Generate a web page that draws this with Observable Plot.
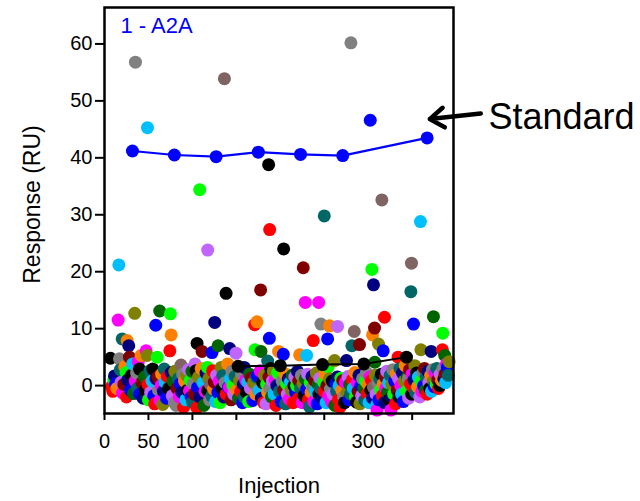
<!DOCTYPE html>
<html>
<head>
<meta charset="utf-8">
<script src="https://cdn.jsdelivr.net/npm/d3@7"></script>
<script src="https://cdn.jsdelivr.net/npm/@observablehq/plot@0.6"></script>
<style>
  html, body { margin: 0; padding: 0; background: #fff; }
  #chart { width: 640px; height: 501px; }
</style>
</head>
<body>
<div id="chart"></div>
<script>
// ---- data ----
const xTicks = [0, 50, 100, 150, 200, 250, 300, 350];
const xTickLabels = [0, 50, 100, 200, 300];
const yTicks = [0, 10, 20, 30, 40, 50, 60];

const compoundCodes = ["R","B","G","K","M","C","O","P","L","N","W","D","T","A","Br"];
const compoundColors = ["#ff0000","#0000ff","#00ff00","#000000","#ff00ff","#00bfff","#ff8000","#c066ff","#808000","#000080","#800000","#006400","#006666","#808080","#806464"];

// standard injections (blue line)
const standardX = [31.8, 79.5, 127, 175, 223, 271, 367];
const standardY = [41.2, 40.5, 40.2, 41.0, 40.6, 40.4, 43.5];

// buffer/blank series (black line)
const blankX = [152, 200, 248, 295, 343.5];
const blankY = [3.4, 3.5, 3.7, 3.8, 5.0];

// compound injections: [injection, response, compound]
const samples = [
[6.8,4.8,"K"],[8,-0.2,"R"],[9.5,-1.0,"R"],[10.5,1.0,"G"],[11.4,1.7,"N"],[12.5,0.3,"B"],[14,-0.5,"O"],[15.5,11.5,"M"],[16.3,21.2,"C"],[17,4.7,"A"],[18,2.8,"T"],[19,0.6,"P"],[20.1,8.2,"T"],[20.5,-1.3,"M"],
[22,0.2,"W"],[23,3.3,"O"],[24.6,2.3,"G"],[25,-2.0,"R"],[25.8,7.9,"O"],[26.5,1.0,"N"],[27.6,7.0,"N"],[28.4,5.0,"W"],[29.5,-0.8,"B"],[30.5,1.8,"K"],[32,3.8,"C"],[33,-1.4,"D"],[34.4,12.7,"L"],[35.2,56.8,"A"],[35,0.8,"M"],
[36.5,2.2,"A"],[37.5,-0.5,"T"],[38.5,4.2,"M"],[39.8,2.9,"K"],[40,-1.5,"B"],[41.7,5.3,"O"],[42.5,0.5,"W"],[44,-2.2,"N"],[45.5,1.5,"D"],[46.5,-0.8,"K"],[47.3,6.1,"M"],[48.5,5.3,"L"],[48.9,45.3,"C"],[49.5,0.2,"R"],[50,-2.5,"G"],
[51.5,2.6,"T"],[52.5,-1.2,"P"],[54,0.8,"C"],[55,2.9,"K"],[56,-1.8,"B"],[57,-3.2,"R"],[58.3,10.6,"B"],[58.5,1.2,"N"],[60,5.0,"G"],[60.6,1.5,"W"],[61.5,-0.8,"A"],[62.8,13.1,"D"],[63,-2.6,"M"],[64.4,0.0,"M"],[65,2.0,"O"],
[66.3,-3.3,"L"],[67,-1.0,"N"],[68,2.9,"T"],[69,0.6,"C"],[70.5,-2.2,"B"],[71.5,1.6,"R"],[73,-0.5,"K"],[74.3,6.1,"R"],[75,12.6,"G"],[75.8,8.9,"O"],[75.8,2.3,"N"],[77,-1.8,"P"],[78,0.8,"D"],[79.5,-3.0,"A"],[80,2.5,"L"],
[81.4,-3.5,"A"],[82.5,-0.5,"W"],[84,1.2,"T"],[85,-2.0,"M"],[86,0.3,"B"],[87,3.6,"Br"],[88,-1.2,"N"],[89,2.0,"A"],[90,-3.8,"R"],[91,0.8,"O"],[92.5,-2.5,"C"],[93.5,1.8,"L"],[94.5,-0.8,"K"],[95.5,2.8,"P"],
[96.6,-0.9,"M"],[97.5,0.9,"G"],[98.5,-2.0,"B"],[99.5,2.5,"D"],[100,-2.9,"T"],[101,0.3,"A"],[102,-1.5,"W"],[103,3.8,"P"],[104,2.6,"K"],[105.3,7.4,"K"],[105,-3.9,"R"],[106,-0.3,"B"],[107,1.5,"L"],[108.3,34.4,"G"],[108.5,-2.0,"N"],[110,3.0,"O"],
[111,6.0,"W"],[112,0.5,"C"],[113,-3.5,"D"],[114.5,-1.0,"M"],[115.5,2.2,"N"],[117,3.2,"G"],[117.4,23.8,"P"],[117.4,-0.9,"K"],[118.5,1.2,"L"],[119.5,-2.5,"A"],[120.5,0.2,"Br"],[122,-1.8,"T"],[122.3,5.8,"B"],[123,2.6,"R"],[124,-0.6,"O"],[125,0.6,"W"],[125.4,11.1,"N"],
[126.5,-2.8,"C"],[127.5,1.8,"P"],[129.2,7.0,"D"],[129,-1.2,"B"],[130.5,0.8,"M"],[131.5,-3.0,"G"],[132.6,3.2,"L"],[133.5,-0.5,"K"],[134.5,1.75,"T"],[135.5,-2.0,"N"],[136.4,53.9,"Br"],[137,0.5,"A"],[138.3,16.2,"K"],[138.5,-1.5,"R"],[140,3.8,"O"],
[141,-0.3,"B"],[142,-0.3,"M"],[142.4,6.5,"N"],[143,1.2,"C"],[144,-2.5,"W"],[145,2.5,"A"],[146,0.0,"G"],[147,-1.5,"P"],[148.5,1.6,"T"],[149.6,5.7,"P"],[150.5,-0.8,"O"],[152.5,-2.2,"D"],[153.5,0.8,"L"],[155,-1.0,"R"],
[156,2.0,"A"],[157,-3.0,"B"],[158,0.2,"N"],[159,3.2,"N"],[159,-2.0,"T"],[160.5,1.0,"M"],[161.5,-1.2,"K"],[163,0.6,"C"],[164,-2.8,"G"],[165,2.0,"D"],[166,-0.5,"P"],[167,1.3,"W"],[168.6,-2.6,"B"],[169.5,0.5,"L"],[170.8,10.7,"R"],[171.2,6.3,"G"],
[172,-1.5,"O"],[173.5,11.2,"O"],[173,1.5,"T"],[174,1.75,"B"],[175,-0.8,"A"],[176,-0.9,"C"],[177.6,16.8,"W"],[177,2.6,"M"],[178,6.0,"D"],[178.5,-2.2,"N"],[180,0.5,"K"],[181,-3.0,"R"],[182,1.8,"L"],[183.7,-3.2,"P"],[184.5,0.2,"G"],[185.6,-1.2,"O"],[185.6,4.3,"T"],
[186.7,38.8,"K"],[187.5,8.3,"B"],[187.9,27.4,"R"],[187,1.5,"W"],[188,-0.5,"A"],[189,3.0,"K"],[190,-2.0,"D"],[191,0.8,"P"],[192,2.5,"L"],[193,-1.5,"C"],[194,1.0,"M"],[195,-3.5,"R"],[196,0.0,"N"],[197,2.2,"G"],[198,6.0,"O"],[199,-1.0,"T"],
[201,-2.8,"B"],[202,0.8,"A"],[203.4,5.5,"B"],[203.8,24.0,"K"],[204,-0.8,"W"],[205.3,2.1,"O"],[206,-3.2,"T"],[207,0.3,"G"],[208,-1.5,"P"],[209,1.2,"N"],[210,-2.4,"M"],[211.5,0.6,"C"],[212.5,-0.8,"L"],[213.5,1.8,"D"],[214.5,-3.0,"R"],[215.5,0.0,"K"],
[216.5,1.5,"P"],[217.5,-1.2,"B"],[218.5,0.0,"G"],[219.5,2.5,"N"],[220.4,-2.3,"R"],[221,0.8,"W"],[222,5.4,"O"],[223,-0.5,"T"],[224,1.8,"A"],[225,-3.0,"M"],[226.1,20.7,"W"],[226,0.4,"L"],[227,-1.8,"K"],[228.4,14.6,"M"],[228.5,1.2,"D"],[229.9,5.3,"C"],[230,-0.6,"B"],
[231,2.0,"P"],[232,-2.5,"R"],[233.3,-3.7,"T"],[234,0.5,"G"],[235,-1.2,"O"],[236,1.6,"N"],[237.5,7.9,"R"],[237,-0.2,"A"],[238,-2.8,"M"],[239,0.9,"W"],[240,-1.0,"C"],[241,2.2,"L"],[242,-3.2,"B"],[243.6,14.6,"M"],[243,0.2,"D"],[244,-1.5,"K"],[245,1.3,"P"],
[246.2,10.8,"A"],[246,-0.5,"T"],[248,-2.2,"N"],[249,0.7,"G"],[250,29.8,"T"],[250,-1.0,"R"],[251,2.0,"O"],[252,-3.0,"C"],[253.8,8.2,"B"],[253,0.0,"W"],[254.5,3.3,"G"],[255,-1.8,"M"],[256,10.5,"O"],[256,1.2,"L"],[257,-0.6,"A"],[258.3,-2.9,"M"],[259,0.8,"K"],[260,-1.5,"P"],
[261.7,4.4,"L"],[262,-3.5,"D"],[263,0.4,"B"],[264,-1.0,"T"],[265.1,10.4,"P"],[265,1.5,"N"],[266,-2.5,"R"],[267,0.0,"C"],[267.8,-3.8,"R"],[269,1.3,"G"],[270,-0.8,"O"],[271,0.9,"W"],[272,-2.0,"A"],[273,-3.0,"K"],[274,0.5,"M"],[275.3,4.4,"N"],
[276,-1.2,"L"],[277,1.6,"P"],[278,-2.5,"B"],[279,0.2,"D"],[280.3,60.2,"A"],[280,-1.5,"T"],[281.4,7.0,"T"],[282,1.0,"R"],[283,-0.5,"C"],[284.1,9.5,"Br"],[284.8,2.3,"O"],[285.5,-2.0,"G"],[286.7,-2.9,"K"],[287.5,0.5,"M"],[288.5,-1.0,"W"],[289.5,1.8,"N"],[290.1,7.2,"W"],[290.5,-3.2,"L"],
[291.5,0.0,"B"],[292.5,-1.8,"P"],[293.5,1.2,"A"],[295,-0.5,"D"],[296,-2.6,"T"],[297,0.8,"G"],[298,2.3,"A"],[299,-1.4,"R"],[300,0.2,"O"],[301,-3.0,"C"],[302.3,46.6,"B"],[302,1.5,"M"],[303,-0.8,"K"],[303.8,0.9,"R"],[304.2,20.4,"G"],[304.9,8.9,"O"],[305,-2.2,"N"],
[306,17.7,"N"],[306,-0.3,"Br"],[307.2,10.1,"W"],[307.5,4.1,"D"],[308,1.8,"L"],[309,-1.5,"P"],[309.9,-3.3,"C"],[310,-4.3,"M"],[311,0.5,"A"],[311.7,7.3,"L"],[312,-2.5,"B"],[313,1.2,"T"],[314,-0.8,"G"],[315.5,32.6,"Br"],[315,2.0,"K"],[316,-1.8,"R"],[317,6.1,"B"],[317,0.3,"O"],[318.5,12.0,"R"],[318.5,-3.0,"N"],[319.5,1.5,"W"],[320,-0.5,"M"],
[321,2.5,"P"],[322,-1.2,"D"],[323,0.5,"C"],[324,-2.5,"K"],[325,1.8,"T"],[325.8,-4.3,"M"],[326.5,-2.0,"N"],[327,0.2,"L"],[328,2.8,"A"],[329,-1.5,"G"],[330,0.8,"B"],[331,-3.2,"R"],[332,2.0,"O"],[333,-0.8,"W"],[334,5.0,"R"],[334.5,1.2,"P"],[335,-2.0,"K"],
[336,3.0,"T"],[337,0.0,"M"],[338,-1.5,"C"],[339,2.2,"N"],[340,-2.8,"B"],[341,0.8,"L"],[342,3.5,"O"],[343.5,-1.0,"G"],[344.5,1.5,"D"],[345.4,1.2,"A"],[346,-2.2,"P"],[347,2.8,"W"],[348.5,16.5,"T"],[348,0.3,"R"],[349.2,21.5,"Br"],[349.5,-1.5,"K"],[350,2.0,"M"],
[351,-0.3,"R"],[351.5,10.8,"B"],[352,1.0,"N"],[353,3.5,"L"],[354,-1.2,"T"],[355,2.2,"K"],[356,-0.2,"O"],[357,1.5,"C"],[358.7,-2.0,"P"],[359.4,28.8,"C"],[359.9,6.3,"L"],[360,0.8,"G"],[361,-1.0,"M"],[362.5,2.3,"A"],[363,0.0,"B"],[364,3.0,"W"],[365,-0.8,"D"],
[366,1.5,"T"],[367,-1.5,"R"],[368,2.5,"N"],[369,0.5,"P"],[370,-0.5,"K"],[371.6,6.0,"N"],[371,1.8,"O"],[372,-1.0,"C"],[373,2.8,"A"],[374.2,12.1,"D"],[374,0.8,"L"],[375,-0.2,"B"],[376,2.2,"M"],[377,0.3,"G"],[378,3.0,"T"],[379,1.0,"W"],[380,-0.5,"R"],
[381.4,0.0,"K"],[382,2.0,"P"],[383.3,0.9,"O"],[384.4,6.3,"R"],[384.8,9.2,"G"],[385,3.0,"A"],[386,1.2,"N"],[387,5.3,"D"],[387.5,2.0,"W"],[388,0.5,"C"],[389,3.8,"M"],[390,3.2,"B"],[391,1.8,"T"],[392,4.2,"L"]
];

const panelTitle = "1 - A2A";
const standardLabel = "Standard";
const standardArrow = [{x1: 428, y1: 47.8, x2: 370, y2: 46.8}];
const xLabel = "Injection";
const yLabel = "Response (RU)";

// ---- build ----
const sampleData = samples.map(([x, y, c]) => ({x, y, c}));
const standards = standardX.map((x, i) => ({x, y: standardY[i]}));
const blanks = blankX.map((x, i) => ({x, y: blankY[i]}));

const font = "Liberation Sans, Arial, Helvetica, sans-serif";

const chart = Plot.plot({
  width: 640,
  height: 501,
  marginLeft: 104,
  marginRight: 187,
  marginTop: 7,
  marginBottom: 88,
  style: {fontFamily: font, fontSize: "20px", color: "#000", background: "#fff"},
  x: {domain: [0, 397]},
  y: {domain: [-4.9, 66.4]},
  color: {type: "ordinal", domain: compoundCodes, range: compoundColors},
  marks: [
    Plot.dot(sampleData, {x: "x", y: "y", r: 6.5, fill: "c", stroke: null}),
    Plot.line(blanks, {x: "x", y: "y", stroke: "#000", strokeWidth: 2}),
    Plot.dot(blanks, {x: "x", y: "y", r: 6.5, fill: "#000"}),
    Plot.line(standards, {x: "x", y: "y", stroke: "#0000ff", strokeWidth: 2.2}),
    Plot.dot(standards, {x: "x", y: "y", r: 6.5, fill: "#0000ff"}),
    Plot.axisY({ticks: yTicks, tickSize: 9, tickPadding: 3, strokeWidth: 2, fontSize: 20, label: null}),
    Plot.axisX({ticks: xTicks, tickSize: 7, tickPadding: 13, strokeWidth: 2, fontSize: 20, label: null,
      tickFormat: d => xTickLabels.includes(d) ? String(d) : ""}),
    Plot.frame({stroke: "#000", strokeWidth: 2.5}),
    Plot.text([panelTitle], {frameAnchor: "top-left", dx: 16, dy: 10, lineAnchor: "top", textAnchor: "start", fill: "#0000ff", fontSize: 22}),
    Plot.text([xLabel], {frameAnchor: "bottom", dy: 64, lineAnchor: "top", textAnchor: "middle", fontSize: 22}),
    Plot.text([yLabel], {frameAnchor: "left", dx: -72, dy: -6, rotate: -90, textAnchor: "middle", lineAnchor: "middle", fontSize: 23}),
    Plot.arrow(standardArrow, {x1: "x1", y1: "y1", x2: "x2", y2: "y2", stroke: "#000", strokeWidth: 4.5, headLength: 20, headAngle: 70}),
    Plot.text([standardLabel], {frameAnchor: "top-right", dx: 35, dy: 96, lineAnchor: "top", textAnchor: "start", fontSize: 36})
  ]
});

document.getElementById("chart").appendChild(chart);
</script>
</body>
</html>
